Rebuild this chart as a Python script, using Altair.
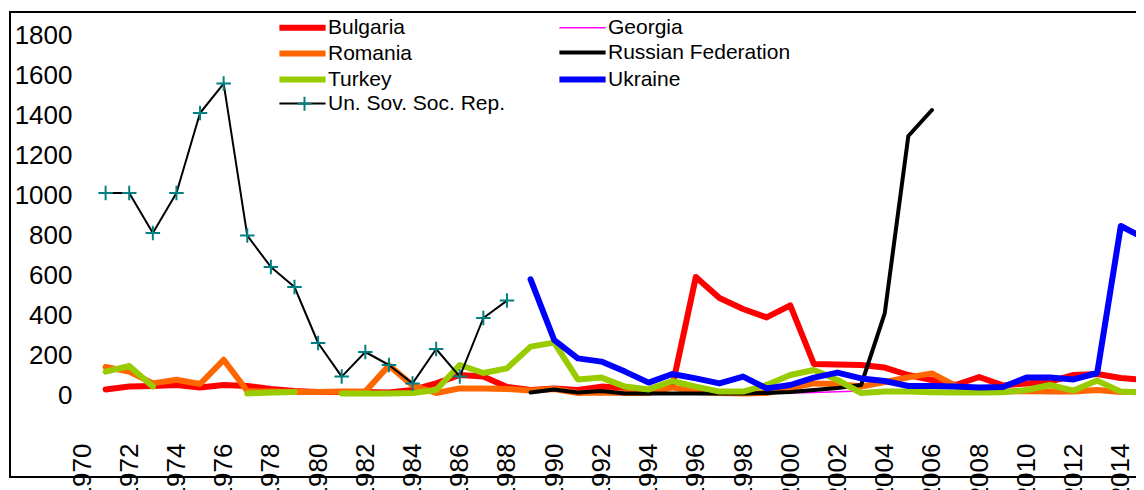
import altair as alt
import pandas as pd

years = list(range(1971, 2016))

# drawing order (later on top)
series_names = ["Bulgaria", "Georgia", "Romania", "Russian Federation",
                "Turkey", "Ukraine", "Un. Sov. Soc. Rep."]
# legend order (column-major, two columns)
legend_order = ["Bulgaria", "Romania", "Turkey", "Un. Sov. Soc. Rep.",
                "Georgia", "Russian Federation", "Ukraine"]
legend_colors = ["#FF0000", "#FF6600", "#99CC00", "#000000",
                 "#FF00FF", "#000000", "#0000FF"]
legend_widths = [6, 6, 6, 2, 1.5, 4, 6]

N = None
bulgaria = [28, 42, 45, 50, 38, 50, 45, 30, 20, 15,
            15, 15, 12, 25, 58, 100, 92, 40, 25, 33,
            25, 42, 35, 20, 40, 590, 485, 430, 388, 448,
            155, 152, 150, 137, 100, 75, 50, 90, 48, 58,
            67, 100, 105, 85, 75]
georgia = [N, N, N, N, N, N, N, N, N, N,
           N, N, N, N, N, N, N, N, N, N,
           N, N, N, N, N, N, N, 5, 8, 10,
           12, 16, 20, N, N, N, N, N, N, N,
           N, N, N, N, N]
romania = [140, 117, 58, 76, 55, 176, 20, 17, 15, 15,
           17, 18, 148, 48, 10, 33, 33, 30, 22, 30,
           10, 12, 10, 10, 38, 15, 10, 8, 10, 35,
           58, 55, 42, 65, 88, 108, 45, 18, 18, 20,
           18, 18, 25, 15, 15]
russia = [N, N, N, N, N, N, N, N, N, N,
          N, N, N, N, N, N, N, N, 12, 28,
          12, 20, 8, 8, 8, 8, 8, 8, 10, 15,
          25, 35, 50, 408, 1295, 1425, N, N, N, N,
          N, N, N, N, N]
turkey = [117, 145, 42, N, N, N, 8, 12, 15, N,
          8, 8, 8, 10, 25, 150, 110, 133, 242, 262,
          78, 87, 42, 28, 70, 42, 17, 17, 50, 100,
          125, 75, 10, 17, 17, 14, 12, 12, 14, 25,
          50, 22, 72, 17, 12]
ukraine = [N, N, N, N, N, N, N, N, N, N,
           N, N, N, N, N, N, N, N, 578, 275,
           183, 167, 117, 62, 105, 83, 58, 92, 33, 50,
           87, 112, 83, 70, 45, 45, 42, 37, 40, 87,
           88, 78, 110, 845, 783]
ussr = [1010, 1010, 810, 1010, 1410, 1557, 797, 640, 540, 260,
        92, 215, 150, 58, 230, 92, 385, 472, N, N,
        N, N, N, N, N, N, N, N, N, N,
        N, N, N, N, N, N, N, N, N, N,
        N, N, N, N, N]

y_ticks = list(range(0, 1801, 200))
x_ticks = list(range(1970, 2015, 2))

all_series = [bulgaria, georgia, romania, russia, turkey, ukraine, ussr]
rows = []
for name, vals in zip(series_names, all_series):
    for yr, v in zip(years, vals):
        rows.append({"year": yr, "country": name, "value": v})
df = pd.DataFrame(rows)
df["value"] = pd.to_numeric(df["value"])

FONT = "Liberation Sans"
CROSS = "M-1,0H1M0,-1V1"

x_enc = alt.X("year:Q",
              scale=alt.Scale(domain=[1966.95, 2015.66], nice=False, zero=False),
              axis=alt.Axis(values=x_ticks, format="d", labelAngle=270, orient="bottom",
                            offset=-38, labelPadding=4, ticks=False, domain=False,
                            grid=False, title=None, labelFontSize=26, labelFont=FONT,
                            labelColor="black", labelFlush=False, labelOverlap=False,
                            labelBound=False))
y_enc = alt.Y("value:Q",
              scale=alt.Scale(domain=[-410, 1915], nice=False, zero=False),
              axis=alt.Axis(values=y_ticks, format="d", orient="left", offset=-68,
                            labelPadding=6, ticks=False, domain=False, grid=False,
                            title=None, labelFontSize=26, labelFont=FONT,
                            labelColor="black"))

lines = alt.Chart(df).mark_line(strokeCap="round", strokeJoin="round").encode(
    x=x_enc,
    y=y_enc,
    color=alt.Color("country:N",
                    scale=alt.Scale(domain=legend_order, range=legend_colors),
                    legend=alt.Legend(title=None)),
    strokeWidth=alt.StrokeWidth("country:N",
                                scale=alt.Scale(type="ordinal", domain=legend_order,
                                                range=legend_widths),
                                legend=alt.Legend(title=None)),
)

crosses = alt.Chart(df).transform_filter(
    alt.datum.country == "Un. Sov. Soc. Rep."
).transform_filter(
    "isValid(datum.value)"
).mark_point(size=210, filled=False, color="#008080", strokeWidth=2,
             opacity=1).encode(
    x=alt.X("year:Q"),
    y=alt.Y("value:Q"),
    shape=alt.Shape("country:N",
                    scale=alt.Scale(domain=["Un. Sov. Soc. Rep."], range=[CROSS]),
                    legend=alt.Legend(title=None, orient="none", legendX=284,
                                      legendY=81, symbolSize=196, labelExpr="''",
                                      symbolStrokeWidth=2,
                                      symbolStrokeColor="#008080")),
)

chart = alt.layer(lines, crosses).properties(
    width=1150, height=465,
    padding={"left": 2, "top": 4, "right": -24, "bottom": 13},
    autosize=alt.AutoSizeParams(type="none"),
).configure_view(
    stroke="black", strokeWidth=2
).configure_legend(
    orient="none", legendX=279, legendY=2, columns=2, columnPadding=41,
    rowPadding=0, symbolType="M-2.2,0H2.2", symbolSize=441, labelFontSize=21,
    labelFont=FONT, labelColor="black", padding=0, labelOffset=12, labelLimit=0,
)

chart.save("out.html", embed_options={"renderer": "svg", "actions": False})
